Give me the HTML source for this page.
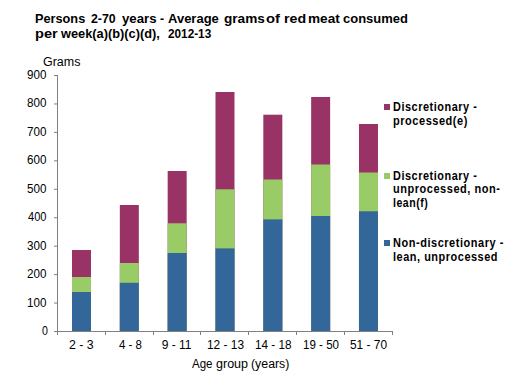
<!DOCTYPE html>
<html><head><meta charset="utf-8"><title>Persons 2-70 years - Average grams of red meat consumed</title><style>
html,body{margin:0;padding:0;background:#fff;}
body{width:508px;height:376px;position:relative;overflow:hidden;font-family:"Liberation Sans",sans-serif;color:#000;}
.t{position:absolute;white-space:nowrap;line-height:20px;transform-origin:0 0;}
.mk{position:absolute;left:384px;width:6px;height:6px;}
svg{position:absolute;left:0;top:0;}
</style></head><body>
<svg width="508" height="376" viewBox="0 0 508 376">
<rect x="72.00" y="250.00" width="19" height="81.00" fill="#993366"/>
<rect x="72.00" y="277.00" width="19" height="54.00" fill="#99CC66"/>
<rect x="72.00" y="292.00" width="19" height="39.00" fill="#336699"/>
<rect x="119.83" y="205.00" width="19" height="126.00" fill="#993366"/>
<rect x="119.83" y="263.00" width="19" height="68.00" fill="#99CC66"/>
<rect x="119.83" y="282.80" width="19" height="48.20" fill="#336699"/>
<rect x="167.66" y="171.00" width="19" height="160.00" fill="#993366"/>
<rect x="167.66" y="223.30" width="19" height="107.70" fill="#99CC66"/>
<rect x="167.66" y="253.00" width="19" height="78.00" fill="#336699"/>
<rect x="215.49" y="92.00" width="19" height="239.00" fill="#993366"/>
<rect x="215.49" y="189.30" width="19" height="141.70" fill="#99CC66"/>
<rect x="215.49" y="248.40" width="19" height="82.60" fill="#336699"/>
<rect x="263.32" y="114.70" width="19" height="216.30" fill="#993366"/>
<rect x="263.32" y="179.50" width="19" height="151.50" fill="#99CC66"/>
<rect x="263.32" y="219.40" width="19" height="111.60" fill="#336699"/>
<rect x="311.15" y="97.00" width="19" height="234.00" fill="#993366"/>
<rect x="311.15" y="164.50" width="19" height="166.50" fill="#99CC66"/>
<rect x="311.15" y="216.00" width="19" height="115.00" fill="#336699"/>
<rect x="358.98" y="124.00" width="19" height="207.00" fill="#993366"/>
<rect x="358.98" y="172.50" width="19" height="158.50" fill="#99CC66"/>
<rect x="358.98" y="211.30" width="19" height="119.70" fill="#336699"/>
<g fill="#808080" shape-rendering="crispEdges"><rect x="57" y="75" width="1" height="257"/><rect x="57" y="331" width="336" height="1"/><rect x="57" y="331" width="1" height="4"/><rect x="105" y="331" width="1" height="4"/><rect x="153" y="331" width="1" height="4"/><rect x="200" y="331" width="1" height="4"/><rect x="248" y="331" width="1" height="4"/><rect x="296" y="331" width="1" height="4"/><rect x="344" y="331" width="1" height="4"/><rect x="392" y="331" width="1" height="4"/></g>
<g fill="#808080"><rect x="54" y="331.00" width="3" height="1"/><rect x="54" y="302.55" width="3" height="1"/><rect x="54" y="274.11" width="3" height="1"/><rect x="54" y="245.66" width="3" height="1"/><rect x="54" y="217.22" width="3" height="1"/><rect x="54" y="188.78" width="3" height="1"/><rect x="54" y="160.33" width="3" height="1"/><rect x="54" y="131.89" width="3" height="1"/><rect x="54" y="103.44" width="3" height="1"/><rect x="54" y="75.00" width="3" height="1"/></g>
</svg>
<div class="mk" style="top:104.0px;background:#993366"></div><div class="mk" style="top:172.8px;background:#99CC66"></div><div class="mk" style="top:240.3px;background:#336699"></div>
<div class="t" style="left:34.75px;top:8.80px;font-size:13.33px;font-weight:bold;transform:scaleX(0.9549);">Persons</div><div class="t" style="left:90.80px;top:8.80px;font-size:13.33px;font-weight:bold;transform:scaleX(0.9269);">2-70</div><div class="t" style="left:122.00px;top:8.80px;font-size:13.33px;font-weight:bold;transform:scaleX(0.9912);">years</div><div class="t" style="left:160.00px;top:8.80px;font-size:13.33px;font-weight:bold;transform:scaleX(0.9250);">-</div><div class="t" style="left:167.50px;top:8.80px;font-size:13.33px;font-weight:bold;transform:scaleX(0.9750);">Average</div><div class="t" style="left:223.78px;top:8.80px;font-size:13.33px;font-weight:bold;transform:scaleX(1.0211);">grams</div><div class="t" style="left:265.89px;top:8.80px;font-size:13.33px;font-weight:bold;transform:scaleX(1.1083);">of</div><div class="t" style="left:283.54px;top:8.80px;font-size:13.33px;font-weight:bold;transform:scaleX(1.0632);">red</div><div class="t" style="left:308.18px;top:8.80px;font-size:13.33px;font-weight:bold;transform:scaleX(1.0200);">meat</div><div class="t" style="left:342.93px;top:8.80px;font-size:13.33px;font-weight:bold;transform:scaleX(0.9738);">consumed</div><div class="t" style="left:34.61px;top:23.80px;font-size:13.33px;font-weight:bold;transform:scaleX(1.0950);">per</div><div class="t" style="left:60.50px;top:23.80px;font-size:13.33px;font-weight:bold;transform:scaleX(0.9598);">week(a)(b)(c)(d),</div><div class="t" style="left:167.90px;top:23.80px;font-size:13.33px;font-weight:bold;transform:scaleX(0.8837);">2012-13</div><div class="t" style="left:42.96px;top:51.70px;font-size:12px;transform:scaleX(1.0400);">Grams</div><div class="t" style="left:41.80px;top:320.90px;font-size:12px;transform:scaleX(0.8833);">0</div><div class="t" style="left:26.83px;top:292.63px;font-size:12px;transform:scaleX(0.9684);">100</div><div class="t" style="left:26.83px;top:264.17px;font-size:12px;transform:scaleX(0.9684);">200</div><div class="t" style="left:26.83px;top:235.70px;font-size:12px;transform:scaleX(0.9684);">300</div><div class="t" style="left:27.80px;top:207.23px;font-size:12px;transform:scaleX(0.9200);">400</div><div class="t" style="left:26.83px;top:178.77px;font-size:12px;transform:scaleX(0.9684);">500</div><div class="t" style="left:26.83px;top:150.30px;font-size:12px;transform:scaleX(0.9684);">600</div><div class="t" style="left:26.83px;top:121.83px;font-size:12px;transform:scaleX(0.9684);">700</div><div class="t" style="left:26.83px;top:93.37px;font-size:12px;transform:scaleX(0.9684);">800</div><div class="t" style="left:26.83px;top:64.90px;font-size:12px;transform:scaleX(0.9684);">900</div><div class="t" style="left:69.37px;top:334.90px;font-size:12px;transform:scaleX(1.0273);">2 - 3</div><div class="t" style="left:118.50px;top:334.90px;font-size:12px;transform:scaleX(0.9565);">4 - 8</div><div class="t" style="left:161.70px;top:334.90px;font-size:12px;">9 - 11</div><div class="t" style="left:207.01px;top:334.90px;font-size:12px;transform:scaleX(0.9917);">12 - 13</div><div class="t" style="left:255.02px;top:334.90px;font-size:12px;transform:scaleX(0.9778);">14 - 18</div><div class="t" style="left:303.04px;top:334.90px;font-size:12px;transform:scaleX(0.9639);">19 - 50</div><div class="t" style="left:350.01px;top:334.90px;font-size:12px;transform:scaleX(0.9917);">51 - 70</div><div class="t" style="left:192.00px;top:353.70px;font-size:12px;transform:scaleX(0.9619);">Age</div><div class="t" style="left:216.16px;top:353.70px;font-size:12px;transform:scaleX(1.0448);">group</div><div class="t" style="left:250.57px;top:353.70px;font-size:12px;transform:scaleX(1.0278);">(years)</div><div class="t" style="left:393.09px;top:96.70px;font-size:12px;font-weight:bold;letter-spacing:0.6px;transform:scaleX(0.9077);">Discretionary -</div><div class="t" style="left:393.08px;top:110.50px;font-size:12px;font-weight:bold;letter-spacing:0.6px;transform:scaleX(0.9150);">processed(e)</div><div class="t" style="left:393.09px;top:165.50px;font-size:12px;font-weight:bold;letter-spacing:0.6px;transform:scaleX(0.9066);">Discretionary -</div><div class="t" style="left:393.09px;top:179.30px;font-size:12px;font-weight:bold;letter-spacing:0.6px;transform:scaleX(0.9138);">unprocessed, non-</div><div class="t" style="left:393.12px;top:192.90px;font-size:12px;font-weight:bold;letter-spacing:0.6px;transform:scaleX(0.8789);">lean(f)</div><div class="t" style="left:393.09px;top:233.00px;font-size:12px;font-weight:bold;letter-spacing:0.6px;transform:scaleX(0.9134);">Non-discretionary -</div><div class="t" style="left:393.09px;top:246.60px;font-size:12px;font-weight:bold;letter-spacing:0.6px;transform:scaleX(0.9088);">lean, unprocessed</div>
</body></html>
